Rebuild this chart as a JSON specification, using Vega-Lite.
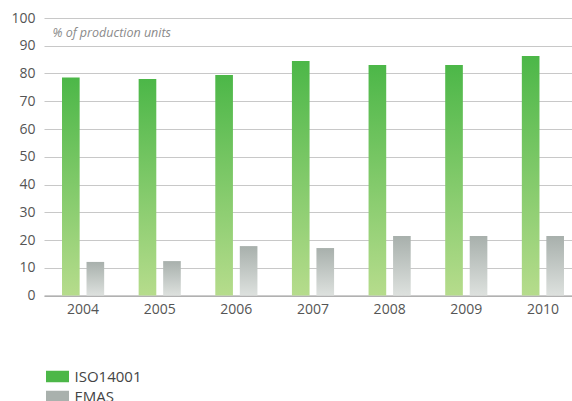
{
  "$schema": "https://vega.github.io/schema/vega-lite/v6.json",
  "width": 538,
  "height": 277.5,
  "padding": {"left": 10, "top": 11, "right": 0, "bottom": 0},
  "background": "white",
  "config": {
    "view": {"stroke": null},
    "font": "Open Sans",
    "axis": {"labelFont": "Open Sans", "labelColor": "#555555", "labelFontSize": 14}
  },
  "data": {
    "values": [
      {"year": "2004", "series": "ISO14001", "value": 78.6},
      {"year": "2005", "series": "ISO14001", "value": 78.0},
      {"year": "2006", "series": "ISO14001", "value": 79.5},
      {"year": "2007", "series": "ISO14001", "value": 84.5},
      {"year": "2008", "series": "ISO14001", "value": 83.1},
      {"year": "2009", "series": "ISO14001", "value": 83.1},
      {"year": "2010", "series": "ISO14001", "value": 86.3},
      {"year": "2004", "series": "EMAS", "value": 12.1},
      {"year": "2005", "series": "EMAS", "value": 12.4},
      {"year": "2006", "series": "EMAS", "value": 17.8},
      {"year": "2007", "series": "EMAS", "value": 17.1},
      {"year": "2008", "series": "EMAS", "value": 21.4},
      {"year": "2009", "series": "EMAS", "value": 21.4},
      {"year": "2010", "series": "EMAS", "value": 21.4}
    ]
  },
  "encoding": {
    "x": {
      "field": "year",
      "type": "nominal",
      "scale": {"paddingInner": 0.45, "paddingOuter": 0.235},
      "axis": {
        "title": null,
        "labelAngle": 0,
        "ticks": false,
        "domainColor": "#9a9a9a",
        "domainWidth": 1.2,
        "labelPadding": 7,
        "grid": false
      }
    },
    "xOffset": {
      "field": "series",
      "type": "nominal",
      "scale": {"domain": ["ISO14001", "EMAS"], "paddingInner": 0.28, "paddingOuter": 0}
    },
    "y": {
      "field": "value",
      "type": "quantitative",
      "scale": {"domain": [0, 100], "nice": false},
      "axis": {
        "values": [0, 10, 20, 30, 40, 50, 60, 70, 80, 90, 100],
        "domain": false,
        "ticks": false,
        "grid": true,
        "gridColor": "#c8c8c8",
        "gridWidth": 1.2,
        "labelPadding": 9,
        "title": "% of production units",
        "titleAngle": 0,
        "titleAlign": "left",
        "titleBaseline": "middle",
        "titleX": 8,
        "titleY": 14,
        "titleFont": "Open Sans",
        "titleFontStyle": "italic",
        "titleFontWeight": "normal",
        "titleFontSize": 12.5,
        "titleColor": "#8a8a8a"
      }
    }
  },
  "layer": [
    {
      "mark": {"type": "bar", "opacity": 0},
      "encoding": {
        "color": {
          "field": "series",
          "type": "nominal",
          "scale": {"domain": ["ISO14001", "EMAS"], "range": ["#4cb748", "#a9b1ad"]},
          "legend": {
            "title": null,
            "orient": "none",
            "legendX": 6,
            "legendY": 351,
            "symbolType": "M-2,-1H2V1H-2Z",
            "symbolSize": 132,
            "symbolOpacity": 1,
            "symbolStrokeWidth": 0,
            "labelFont": "Open Sans",
            "labelFontSize": 15,
            "labelColor": "#444444",
            "labelOffset": 9.5,
            "rowPadding": 4
          }
        }
      }
    },
    {
      "transform": [{"filter": "datum.series === 'ISO14001'"}],
      "mark": {
        "type": "bar",
        "fill": {
          "gradient": "linear",
          "x1": 0, "y1": 0, "x2": 0, "y2": 1,
          "stops": [
            {"offset": 0, "color": "#4cb748"},
            {"offset": 1, "color": "#b6dc8c"}
          ]
        }
      }
    },
    {
      "transform": [{"filter": "datum.series === 'EMAS'"}],
      "mark": {
        "type": "bar",
        "fill": {
          "gradient": "linear",
          "x1": 0, "y1": 0, "x2": 0, "y2": 1,
          "stops": [
            {"offset": 0, "color": "#a8b0ac"},
            {"offset": 1, "color": "#dde1de"}
          ]
        }
      }
    }
  ]
}
